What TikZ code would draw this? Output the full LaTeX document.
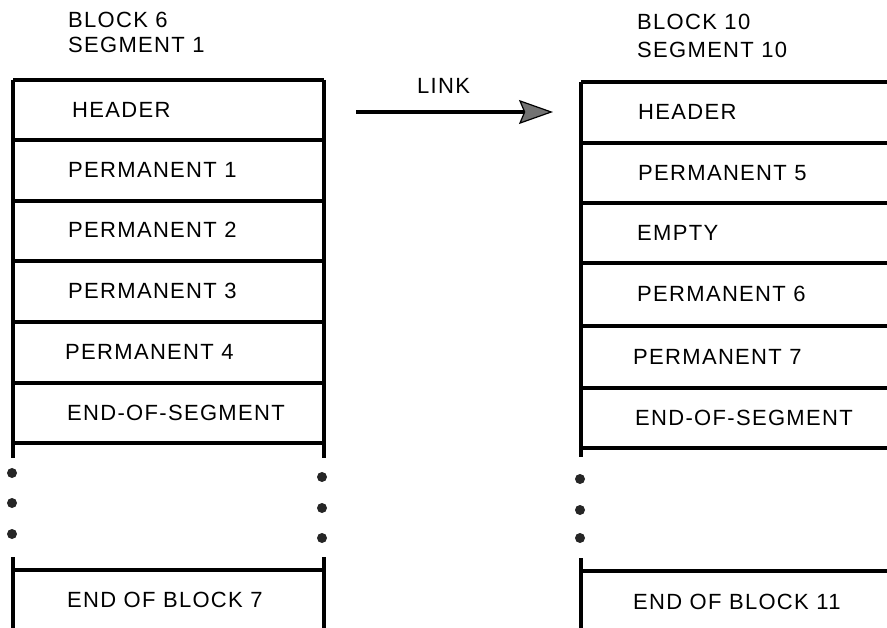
\documentclass[tikz,border=0pt]{standalone}
\usepackage{fontspec}
\setmainfont[LetterSpace=6]{Liberation Sans}
\usetikzlibrary{arrows.meta}
\begin{document}
\begin{tikzpicture}[x=1pt,y=-1pt,
  lbl/.style={anchor=west,inner sep=0pt,font=\fontsize{22}{25}\selectfont},
  rule/.style={line width=3.4pt},
  side/.style={line width=3.8pt},
  dot/.style={circle,fill=black!85,inner sep=0pt,minimum size=10pt}]
\useasboundingbox (0,0) rectangle (887,628);
% titles
\node[lbl] (b6) at (68,20) {BLOCK 6};
\node[lbl] (s1) at (68,44.5) {SEGMENT 1};
\node[lbl] (b10) at (637,22) {BLOCK 10};
\node[lbl] (s10) at (637,50) {SEGMENT 10};
% left column
\draw[side] (13,80) -- (13,458);
\draw[side] (324,80) -- (324,458);
\foreach \y in {80,140,201,261,322,383,443}
  \draw[rule] (13,\y) -- (324,\y);
\node[lbl] (lh) at (72,110) {HEADER};
\node[lbl] (lp1) at (68,170) {PERMANENT 1};
\node[lbl] (lp2) at (68,230) {PERMANENT 2};
\node[lbl] (lp3) at (68,291) {PERMANENT 3};
\node[lbl] (lp4) at (65,352) {PERMANENT 4};
\node[lbl] (les) at (67,413) {END-OF-SEGMENT};
\node[dot] (ld1) at (12,473) {};
\node[dot] (ld2) at (12,503) {};
\node[dot] (ld3) at (12,534) {};
\node[dot] (rd1) at (322,477) {};
\node[dot] (rd2) at (322,508) {};
\node[dot] (rd3) at (322,538) {};
\draw[side] (13,557) -- (13,628);
\draw[side] (324,557) -- (324,628);
\draw[rule] (13,570) -- (324,570);
\node[lbl] (leb) at (67,600) {END OF BLOCK 7};
% right column
\draw[side] (581,82) -- (581,457);
\foreach \y in {82,143,203,263,326,388,448}
  \draw[rule] (581,\y) -- (887,\y);
\node[lbl] (rh) at (638,112) {HEADER};
\node[lbl] (rp5) at (638,173) {PERMANENT 5};
\node[lbl] (re) at (637,233) {EMPTY};
\node[lbl] (rp6) at (637,294) {PERMANENT 6};
\node[lbl] (rp7) at (633,357) {PERMANENT 7};
\node[lbl] (res) at (635,418) {END-OF-SEGMENT};
\node[dot] (qd1) at (580,479) {};
\node[dot] (qd2) at (580,510) {};
\node[dot] (qd3) at (580,538) {};
\draw[side] (581,558) -- (581,628);
\draw[rule] (581,571) -- (887,571);
\node[lbl] (reb) at (633,602) {END OF BLOCK 11};
% link
\coordinate (la) at (356,112);
\coordinate (lb) at (553,112);
\draw[line width=3.6pt,-{Stealth[length=34pt,width=24pt,inset=5pt,fill=black!55,line width=1.2pt]}] (la) -- (lb);
\node[lbl] (link) at (417,86) {LINK};
\end{tikzpicture}
\end{document}
